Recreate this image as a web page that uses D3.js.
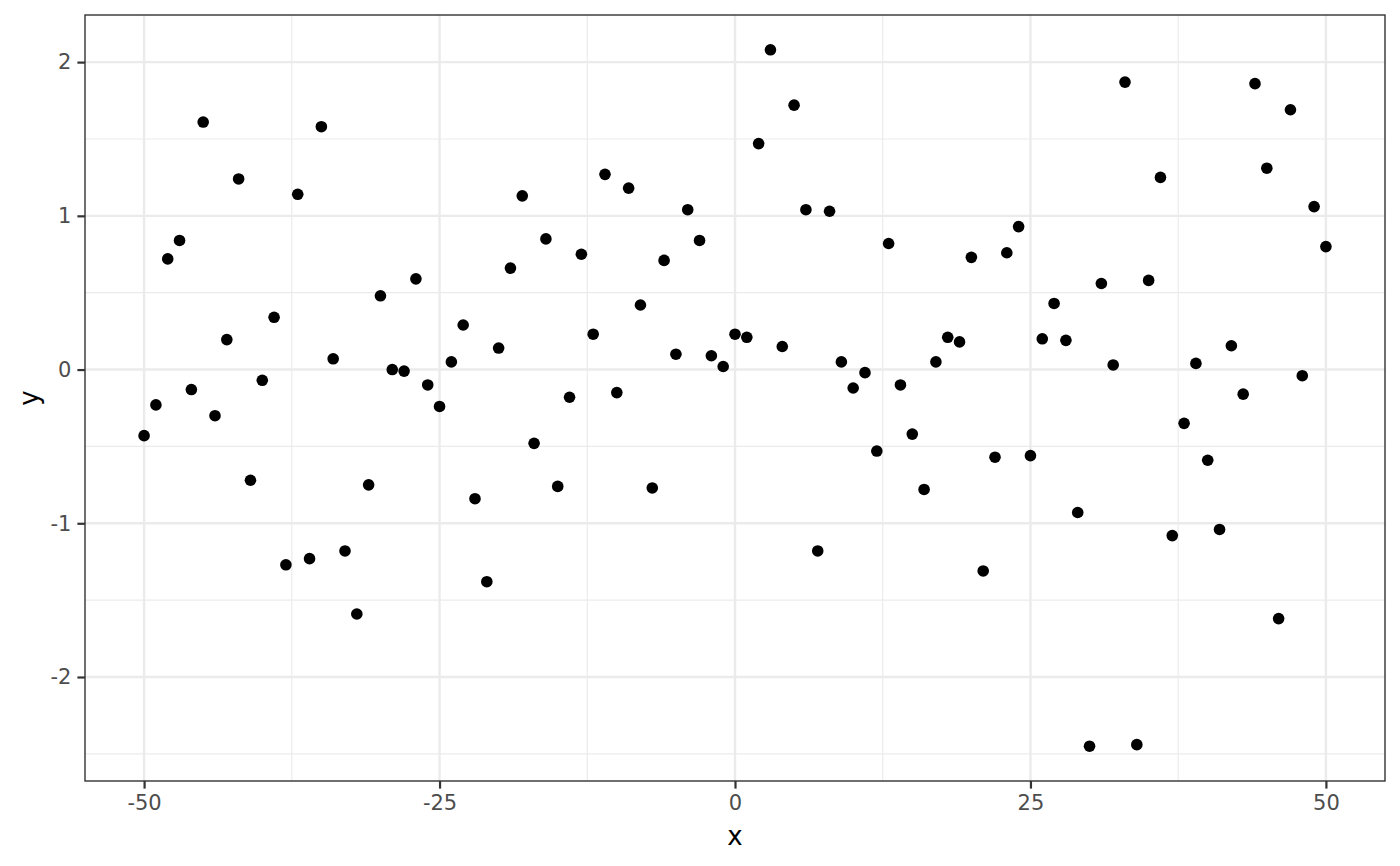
<!DOCTYPE html>
<html><head><meta charset="utf-8">
<script src="https://cdn.jsdelivr.net/npm/d3@7"></script>
<style>body{margin:0;background:#fff}svg{display:block}text{font-family:"DejaVu Sans",sans-serif}</style>
</head><body>
<svg id="c" width="1400" height="866"></svg>
<script>
const xValues = d3.range(-50, 51);
const yValues = [
 -0.43,-0.23,0.72,0.84,-0.13,1.61,-0.30,0.195,1.24,-0.72,
 -0.07,0.34,-1.27,1.14,-1.23,1.58,0.07,-1.18,-1.59,-0.75,
 0.48,0.00,-0.01,0.59,-0.10,-0.24,0.05,0.29,-0.84,-1.38,
 0.14,0.66,1.13,-0.48,0.85,-0.76,-0.18,0.75,0.23,1.27,
 -0.15,1.18,0.42,-0.77,0.71,0.10,1.04,0.84,0.09,0.02,
 0.23,0.21,1.47,2.08,0.15,1.72,1.04,-1.18,1.03,0.05,
 -0.12,-0.02,-0.53,0.82,-0.10,-0.42,-0.78,0.05,0.21,0.18,
 0.73,-1.31,-0.57,0.76,0.93,-0.56,0.20,0.43,0.19,-0.93,
 -2.45,0.56,0.03,1.87,-2.44,0.58,1.25,-1.08,-0.35,0.04,
 -0.59,-1.04,0.155,-0.16,1.86,1.31,-1.62,1.69,-0.04,1.06,
 0.80];
const xTicks = [-50, -25, 0, 25, 50];
const yTicks = [-2, -1, 0, 1, 2];
const xMinor = [-37.5, -12.5, 12.5, 37.5];
const yMinor = [-2.5, -1.5, -0.5, 0.5, 1.5];
const data = xValues.map((x, i) => ({x, y: yValues[i]}));

const svg = d3.select("#c");
const L = 85, R = 1385, T = 15, B = 781;
const yMin = d3.min(yValues), yMax = d3.max(yValues), ex = (yMax - yMin) * 0.05;
const x = d3.scaleLinear().domain([-55, 55]).range([L, R]);
const y = d3.scaleLinear().domain([yMin - ex, yMax + ex]).range([B, T]);

const g = svg.append("g");
g.selectAll(".xm").data(xMinor).enter().append("line")
 .attr("x1", d => x(d)).attr("x2", d => x(d)).attr("y1", T).attr("y2", B)
 .attr("stroke", "#EBEBEB").attr("stroke-width", 1.2);
g.selectAll(".ym").data(yMinor).enter().append("line")
 .attr("y1", d => y(d)).attr("y2", d => y(d)).attr("x1", L).attr("x2", R)
 .attr("stroke", "#EBEBEB").attr("stroke-width", 1.2);
g.selectAll(".xM").data(xTicks).enter().append("line")
 .attr("x1", d => x(d)).attr("x2", d => x(d)).attr("y1", T).attr("y2", B)
 .attr("stroke", "#EBEBEB").attr("stroke-width", 2.4);
g.selectAll(".yM").data(yTicks).enter().append("line")
 .attr("y1", d => y(d)).attr("y2", d => y(d)).attr("x1", L).attr("x2", R)
 .attr("stroke", "#EBEBEB").attr("stroke-width", 2.4);

svg.append("g").selectAll("circle").data(data).enter().append("circle")
 .attr("cx", d => x(d.x)).attr("cy", d => y(d.y)).attr("r", 5.8).attr("fill", "#000");

svg.append("rect").attr("x", L).attr("y", T).attr("width", R - L).attr("height", B - T)
 .attr("fill", "none").attr("stroke", "#333333").attr("stroke-width", 1.4);

const xa = svg.append("g").attr("transform", `translate(0,${B})`)
 .call(d3.axisBottom(x).tickValues(xTicks).tickSize(7.6).tickPadding(6).tickFormat(d3.format("d")));
const ya = svg.append("g").attr("transform", `translate(${L},0)`)
 .call(d3.axisLeft(y).tickValues(yTicks).tickSize(7.6).tickPadding(6).tickFormat(d3.format("d")));
[xa, ya].forEach(a => {
  a.select(".domain").remove();
  a.selectAll(".tick line").attr("stroke", "#333333").attr("stroke-width", 2.2);
  a.selectAll(".tick text").attr("fill", "#4D4D4D").style("font-size", "21px")
   .style("font-family", '"DejaVu Sans", sans-serif');
});
xa.selectAll(".tick text").text(d => d < 0 ? "-" + Math.abs(d) : d);
ya.selectAll(".tick text").text(d => d < 0 ? "-" + Math.abs(d) : d);

svg.append("text").attr("x", (L + R) / 2).attr("y", 845).attr("text-anchor", "middle")
 .style("font-size", "26px").attr("fill", "#000").text("x");
svg.append("text").attr("transform", `translate(38,${(T + B) / 2}) rotate(-90)`).attr("text-anchor", "middle")
 .style("font-size", "26px").attr("fill", "#000").text("y");
</script>
</body></html>
